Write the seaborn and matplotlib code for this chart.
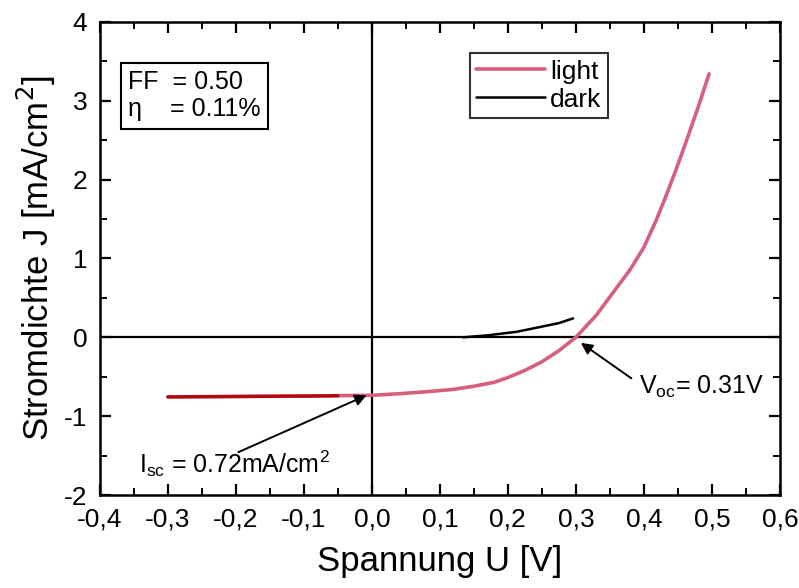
import numpy as np
import pandas as pd
import seaborn as sns
import matplotlib.pyplot as plt
from matplotlib.ticker import MultipleLocator, FuncFormatter

sns.set_theme(style="ticks")
plt.rcParams['font.family'] = ['Liberation Sans', 'DejaVu Sans']
plt.rcParams['text.color'] = 'black'
plt.rcParams['axes.labelcolor'] = 'black'

# light curve (voltage V, current density mA/cm^2)
light_u = [-0.30, -0.20, -0.10, -0.05, 0.00, 0.04, 0.08, 0.12, 0.15, 0.18, 0.20, 0.225, 0.25, 0.275, 0.30,
           0.33, 0.355, 0.38, 0.40, 0.418, 0.433, 0.448, 0.463, 0.48, 0.496]
light_j = [-0.755, -0.75, -0.745, -0.74, -0.735, -0.715, -0.69, -0.66, -0.62, -0.57, -0.51, -0.42, -0.31, -0.17, 0.0,
           0.28, 0.57, 0.86, 1.14, 1.48, 1.80, 2.14, 2.50, 2.92, 3.34]
# dark curve
dark_u = [0.134, 0.17, 0.213, 0.247, 0.275, 0.296]
dark_j = [0.0, 0.025, 0.07, 0.13, 0.18, 0.24]

light = pd.DataFrame({"U": light_u, "J": light_j})
dark = pd.DataFrame({"U": dark_u, "J": dark_j})

fig, ax = plt.subplots(figsize=(7.99, 5.88), dpi=100)
fig.subplots_adjust(left=0.125, right=0.976, top=0.963, bottom=0.158)

ax.axhline(0, color='black', lw=1.6, zorder=1)
ax.axvline(0, color='black', lw=1.6, zorder=1)

sns.lineplot(data=light, x="U", y="J", ax=ax, color='#d4607e', lw=2.6, label='light', zorder=3)
sns.lineplot(data=light[light.U <= -0.05], x="U", y="J", ax=ax, color='#b00c10', lw=2.4, zorder=4, legend=False)
sns.lineplot(data=dark, x="U", y="J", ax=ax, color='black', lw=1.8, label='dark', zorder=2)

ax.set_xlim(-0.4, 0.6)
ax.set_ylim(-2, 4)
ax.xaxis.set_major_locator(MultipleLocator(0.1))
ax.xaxis.set_minor_locator(MultipleLocator(0.05))
ax.yaxis.set_major_locator(MultipleLocator(1))
ax.yaxis.set_minor_locator(MultipleLocator(0.5))
ax.xaxis.set_major_formatter(FuncFormatter(lambda v, p: f"{v:.1f}".replace('.', ',').replace('-0,0', '0,0')))
ax.yaxis.set_major_formatter(FuncFormatter(lambda v, p: f"{int(round(v))}"))
ax.tick_params(which='major', direction='in', length=8, width=1.6, top=True, right=True, labelsize=19,
               colors='black', labelcolor='black')
ax.tick_params(axis='x', which='major', pad=9)
ax.tick_params(axis='y', which='major', pad=9)
ax.tick_params(which='minor', direction='in', length=5, width=1.4, top=True, right=True, colors='black')
for s in ax.spines.values():
    s.set_linewidth(1.8)
    s.set_color('black')

ax.set_xlabel("Spannung U [V]", fontsize=25, labelpad=10, color='black')
ax.set_ylabel("Stromdichte J [mA/cm$^2$]", fontsize=25, labelpad=4, color='black')

leg = ax.legend(loc='upper left', bbox_to_anchor=(0.544, 0.934), fontsize=19, frameon=True,
                fancybox=False, edgecolor='black', handlelength=2.6, handletextpad=0.2,
                borderpad=0.25, labelspacing=0.15, borderaxespad=0)
leg.get_frame().set_linewidth(1.5)

ax.text(-0.358, 3.06, "FF  = 0.50\nη    = 0.11%", fontsize=18, va='center', ha='left',
        bbox=dict(boxstyle='square,pad=0.3', fc='white', ec='black', lw=1.5), linespacing=1.15)

ax.annotate("", xy=(-0.004, -0.72), xytext=(-0.2, -1.47),
            arrowprops=dict(arrowstyle='-|>', color='black', lw=1.4, mutation_scale=17))
ax.text(-0.342, -1.6, "I$_{\\mathregular{sc}}$ = 0.72mA/cm$^{\\mathregular{2}}$", fontsize=18, ha='left', va='center')

ax.annotate("", xy=(0.304, -0.05), xytext=(0.385, -0.54),
            arrowprops=dict(arrowstyle='-|>', color='black', lw=1.4, mutation_scale=17))
ax.text(0.393, -0.63, "V$_{\\mathregular{oc}}$= 0.31V", fontsize=18, ha='left', va='center')

fig.savefig("out.png", dpi=100)
